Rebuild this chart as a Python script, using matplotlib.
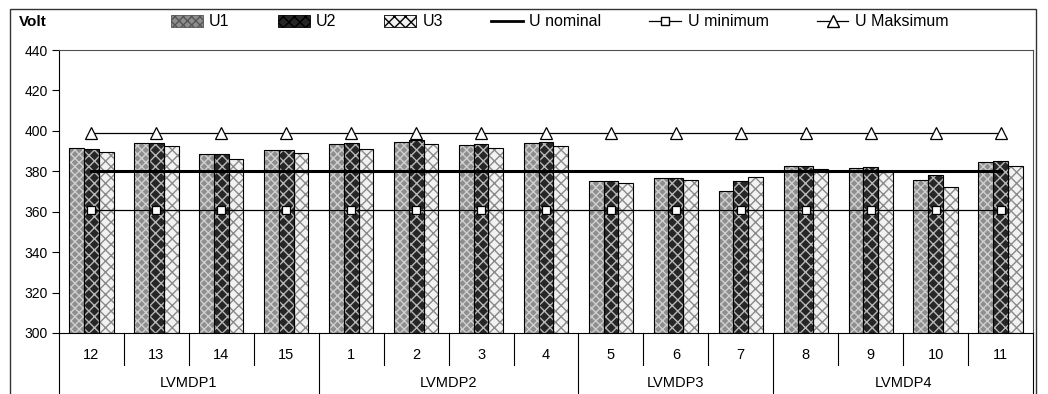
import matplotlib.pyplot as plt
import matplotlib.patches as mpatches
from matplotlib.lines import Line2D
from matplotlib.transforms import blended_transform_factory
import numpy as np

plt.rcParams['font.family'] = ['Liberation Sans', 'DejaVu Sans']
plt.rcParams['hatch.linewidth'] = 1.0

# data
labels = ['12', '13', '14', '15', '1', '2', '3', '4', '5', '6', '7', '8', '9', '10', '11']
groups = ['LVMDP1', 'LVMDP2', 'LVMDP3', 'LVMDP4']
group_sizes = [4, 4, 3, 4]
u1 = [391.6, 394.1, 388.6, 390.6, 393.6, 394.6, 393.1, 394.1, 375.2, 376.7, 370.3, 382.7, 381.7, 375.7, 384.7]
u2 = [391.1, 394.1, 388.6, 390.6, 394.1, 395.5, 393.6, 394.6, 375.2, 376.7, 375.2, 382.7, 382.2, 378.2, 385.1]
u3 = [389.6, 392.4, 386.1, 389.1, 391.1, 393.6, 391.6, 392.6, 374.2, 375.7, 377.2, 381.2, 379.7, 372.3, 382.7]
u_nominal = 380
u_min = 361
u_max = 399

fig = plt.figure(figsize=(10.48, 3.94), dpi=100)
ax = fig.add_axes([59 / 1048, 1 - 333 / 394, (1033 - 59) / 1048, (333 - 50) / 394])

x = np.arange(len(labels))
w = 0.227
styles = [
    dict(face='#8e8e8e', hatch='xxxx', hc='#cfcfcf'),
    dict(face='#262626', hatch='xxx', hc='#b8b8b8'),
    dict(face='#f2f2f2', hatch='xxx', hc='#8a8a8a'),
]
series = [u1, u2, u3]
base = 300
for i, (vals, st) in enumerate(zip(series, styles)):
    h = np.array(vals) - base
    ax.bar(x + (i - 1) * w, h, w, bottom=base, color=st['face'], edgecolor=st['hc'],
           hatch=st['hatch'], linewidth=0, zorder=2)
    ax.bar(x + (i - 1) * w, h, w, bottom=base, fill=False, edgecolor='black',
           linewidth=0.8, zorder=2.1)

ax.plot(x, [u_nominal] * len(x), color='black', lw=2.2, zorder=3)
ax.plot(x, [u_min] * len(x), color='black', lw=0.9, marker='s', ms=5.5,
        mfc='white', mec='black', mew=0.9, zorder=3)
ax.plot(x, [u_max] * len(x), color='black', lw=0.9, marker='^', ms=8.5,
        mfc='white', mec='black', mew=0.9, zorder=3)

ax.set_xlim(-0.5, len(labels) - 0.5)
ax.set_ylim(300, 440)
ax.set_yticks(np.arange(300, 441, 20))
ax.tick_params(axis='y', direction='out', length=5, labelsize=10, pad=3)
ax.set_xticks([])
for side in ['top', 'right']:
    ax.spines[side].set_color('#505050')
ax.spines['left'].set_color('black')
ax.spines['bottom'].set_color('black')

# category axis in two levels
tr = blended_transform_factory(ax.transData, ax.transAxes)
cat_y, cat_line = -0.078, -0.113
grp_y, grp_line = -0.177, -0.23
for xi, lab in zip(x, labels):
    ax.text(xi, cat_y, lab, transform=tr, ha='center', va='center', fontsize=10.5)
bounds = np.cumsum([0] + group_sizes) - 0.5
for b in np.arange(-0.5, len(labels)):
    low = grp_line if b in bounds else cat_line
    ax.add_line(Line2D([b, b], [0, low], transform=tr, color='black', lw=0.8, clip_on=False))
start = 0
for g, n in zip(groups, group_sizes):
    ax.text(start + (n - 1) / 2, grp_y, g, transform=tr, ha='center', va='center', fontsize=10.5)
    start += n

fig.text(19 / 1048, 1 - 22 / 394, 'Volt', fontsize=11, fontweight='bold', va='center')

handles = [mpatches.Patch(facecolor=st['face'], edgecolor='black', hatch=st['hatch'], lw=0.6)
           for st in styles]
handles[0].set_edgecolor('#555555')
handles += [
    Line2D([], [], color='black', lw=2),
    Line2D([], [], color='black', lw=0.9, marker='s', ms=5.5, mfc='white', mec='black'),
    Line2D([], [], color='black', lw=0.9, marker='^', ms=8, mfc='white', mec='black'),
]
fig.legend(handles, ['U1', 'U2', 'U3', 'U nominal', 'U minimum', 'U Maksimum'],
           loc='center', bbox_to_anchor=(0.534, 1 - 22 / 394), ncol=6, frameon=False,
           fontsize=11.5, handlelength=2.0, handleheight=0.7, handletextpad=0.4,
           columnspacing=3.0)

fig.add_artist(mpatches.Rectangle((10 / 1048, -0.02), 1026 / 1048, 1 - 9 / 394 + 0.02,
                                  transform=fig.transFigure, fill=False, ec='#333333', lw=1))

fig.savefig('out.png', dpi=100)
